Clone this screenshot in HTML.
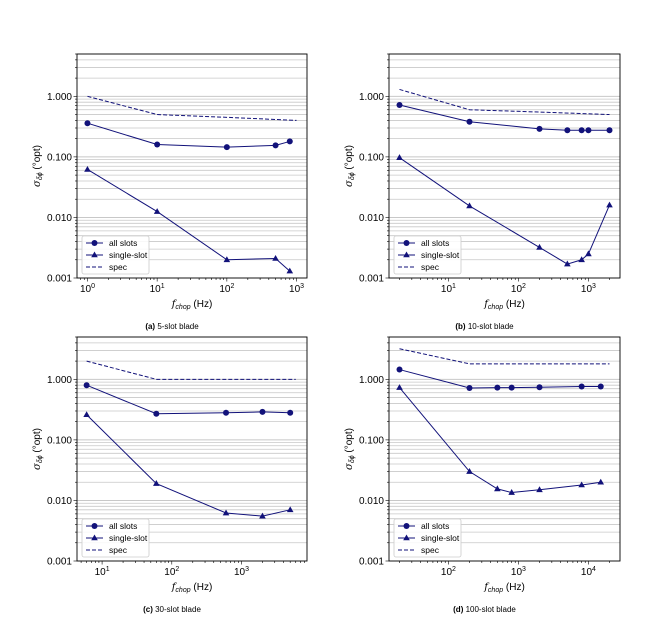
<!DOCTYPE html>
<html><head><meta charset="utf-8"><style>
body{margin:0;background:#fff}
svg{display:block;font-family:"Liberation Sans",Arial,sans-serif}
</style></head><body>
<svg id="s" width="648" height="627" viewBox="0 0 648 627" xmlns="http://www.w3.org/2000/svg"></svg>
<script>
const NS="http://www.w3.org/2000/svg";
let out="";
const C="#12127a";
function panel(L,R,T,B,xmin,xmax,series,spec,cap,capLetter){
  const ymin=-3,ymax=Math.log10(5);
  const X=v=>L+(Math.log10(v)-xmin)/(xmax-xmin)*(R-L);
  const Y=v=>B-(Math.log10(v)-ymin)/(ymax-ymin)*(B-T);
  // grid
  for(let p=-3;p<=0;p++)for(let m=1;m<10;m++){const v=m*Math.pow(10,p);if(v>5.01)continue;const y=Y(v);
    out+=`<line x1="${L}" x2="${R}" y1="${y}" y2="${y}" stroke="#c8c8c8" stroke-width="${m==1?1:0.8}"/>`;
    out+=`<line x1="${L-(m==1?3.5:2)}" x2="${L}" y1="${y}" y2="${y}" stroke="#000" stroke-width="0.6"/>`;
    if(m==1) out+=`<text x="${L-5}" y="${y+3.5}" font-size="10" text-anchor="end">${Math.pow(10,p).toFixed(3)}</text>`;}
  // x ticks
  for(let p=Math.floor(xmin);p<=Math.ceil(xmax);p++)for(let m=1;m<10;m++){const lv=p+Math.log10(m);if(lv<xmin||lv>xmax)continue;const x=L+(lv-xmin)/(xmax-xmin)*(R-L);
    out+=`<line x1="${x}" x2="${x}" y1="${B}" y2="${B+(m==1?3.5:2)}" stroke="#000" stroke-width="0.6"/>`;
    if(m==1) out+=`<text x="${x}" y="${B+14}" font-size="10" text-anchor="middle">10<tspan dy="-4" font-size="7">${p}</tspan></text>`;}
  out+=`<rect x="${L}" y="${T}" width="${R-L}" height="${B-T}" fill="none" stroke="#000" stroke-width="0.9"/>`;
  // spec
  out+=`<polyline fill="none" stroke="${C}" stroke-width="1" stroke-dasharray="4,2" points="${spec.map(p=>X(p[0])+","+Y(p[1])).join(" ")}"/>`;
  series.forEach((s,i)=>{
    out+=`<polyline fill="none" stroke="${C}" stroke-width="1" points="${s.x.map((x,j)=>X(x)+","+Y(s.y[j])).join(" ")}"/>`;
    s.x.forEach((x,j)=>{const cx=X(x),cy=Y(s.y[j]);
      out+= i==0?`<circle cx="${cx}" cy="${cy}" r="3" fill="${C}"/>`:`<polygon points="${cx},${cy-3.5} ${cx+3.3},${cy+2.3} ${cx-3.3},${cy+2.3}" fill="${C}"/>`;});
  });
  // legend
  const lx=L+5,ly=B-42;
  out+=`<rect x="${lx}" y="${ly}" width="67" height="38" fill="#fff" fill-opacity="0.85" stroke="#ccc" stroke-width="0.8" rx="2"/>`;
  const names=["all slots","single-slot","spec"];
  names.forEach((n,i)=>{const y=ly+7+i*12;
    out+=`<line x1="${lx+4}" x2="${lx+21}" y1="${y}" y2="${y}" stroke="${C}" stroke-width="1" ${i==2?'stroke-dasharray="4,2"':''}/>`;
    if(i==0)out+=`<circle cx="${lx+12.5}" cy="${y}" r="3" fill="${C}"/>`;
    if(i==1)out+=`<polygon points="${lx+12.5},${y-3.5} ${lx+15.8},${y+2.3} ${lx+9.2},${y+2.3}" fill="${C}"/>`;
    out+=`<text x="${lx+27}" y="${y+3}" font-size="8.5">${n}</text>`;});
  const cx=(L+R)/2;
  out+=`<text x="${cx}" y="${B+29}" font-size="10" text-anchor="middle"><tspan font-style="italic" font-family="DejaVu Serif,serif">f</tspan><tspan font-size="7" dy="2" font-style="italic">chop</tspan><tspan dy="-2"> (Hz)</tspan></text>`;
  const yl=(T+B)/2;
  out+=`<text transform="translate(${L-37},${yl}) rotate(-90)" font-size="10" text-anchor="middle"><tspan font-style="italic" font-family="DejaVu Serif,serif">σ</tspan><tspan font-size="7" dy="2" font-style="italic">δϕ</tspan><tspan dy="-2"> (°opt)</tspan></text>`;
  out+=`<text x="${cx-20}" y="${B+51}" font-size="8" text-anchor="middle"><tspan font-weight="bold">(${capLetter})</tspan> ${cap}</text>`;
}
panel(77,307,54,278,-0.15,3.15,
 [{x:[1,10,100,500,800],y:[0.36,0.16,0.145,0.155,0.18]},{x:[1,10,100,500,800],y:[0.062,0.0125,0.002,0.0021,0.0013]}],
 [[1,1],[10,0.5],[100,0.45],[1000,0.4]],"5-slot blade","a");
panel(389,620,54,278,Math.log10(2)-0.15,Math.log10(2000)+0.15,
 [{x:[2,20,200,500,800,1000,2000],y:[0.72,0.38,0.29,0.275,0.275,0.275,0.275]},{x:[2,20,200,500,800,1000,2000],y:[0.097,0.0155,0.0032,0.0017,0.002,0.0025,0.016]}],
 [[2,1.3],[20,0.6],[200,0.55],[2000,0.5]],"10-slot blade","b");
panel(77,307,337,561,0.64,3.94,
 [{x:[6,60,600,2000,5000],y:[0.8,0.27,0.28,0.29,0.28]},{x:[6,60,600,2000,5000],y:[0.26,0.019,0.0062,0.0055,0.007]}],
 [[6,2],[60,1],[6000,1]],"30-slot blade","c");
panel(389,620,337,561,1.151,4.451,
 [{x:[20,200,500,800,2000,8000,15000],y:[1.45,0.72,0.73,0.73,0.74,0.76,0.76]},{x:[20,200,500,800,2000,8000,15000],y:[0.73,0.03,0.0155,0.0135,0.015,0.018,0.02]}],
 [[20,3.2],[200,1.8],[20000,1.8]],"100-slot blade","d");
document.getElementById("s").innerHTML=out;
</script>
</body></html>
